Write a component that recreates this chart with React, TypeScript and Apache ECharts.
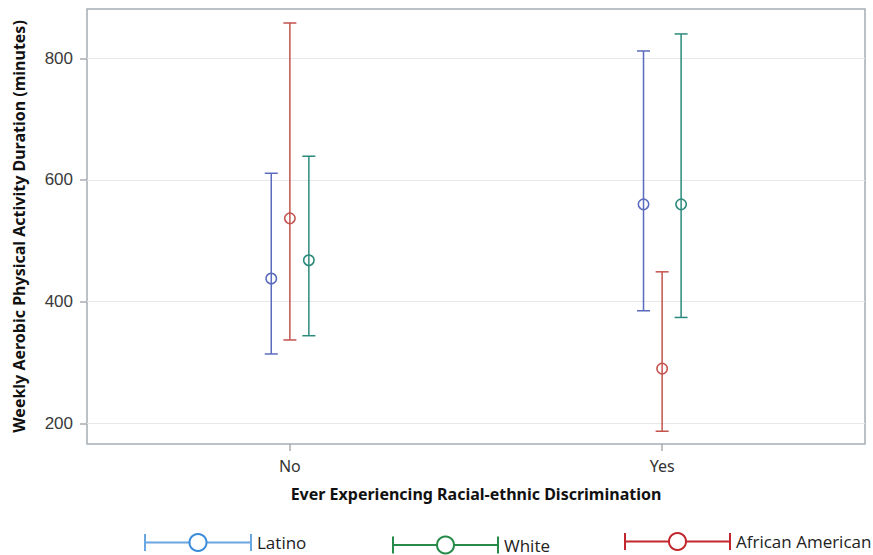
import React, { useEffect, useRef } from "react";
import * as echarts from "echarts";

const categories = ["No", "Yes"];
const yTicks = [200, 400, 600, 800];

const latinoMean = [438, 560];
const latinoLow = [314, 385];
const latinoHigh = [611, 812];

const aaMean = [537, 290];
const aaLow = [337, 187];
const aaHigh = [858, 449];

const whiteMean = [468, 560];
const whiteLow = [344, 374];
const whiteHigh = [639, 840];

const COLORS = { latino: "#5a6bbd", aa: "#c4524d", white: "#2b8a7b" };
const LEGEND_COLORS = { latino: "#3a8cdb", white: "#268a48", aa: "#c3262c" };

function buildData(offset: number, mean: number[], low: number[], high: number[]) {
  return categories.map((_, i) => [i + 1 + offset, low[i], high[i], mean[i]]);
}

function makeSeries(name: string, color: string, offset: number, mean: number[], low: number[], high: number[]) {
  return {
    type: "custom",
    name,
    data: buildData(offset, mean, low, high),
    renderItem: (params: any, api: any) => {
      const x = api.value(0);
      const pLow = api.coord([x, api.value(1)]);
      const pHigh = api.coord([x, api.value(2)]);
      const pMean = api.coord([x, api.value(3)]);
      const cap = 6.5;
      const st = { stroke: color, lineWidth: 1.5, fill: "none" };
      return {
        type: "group",
        children: [
          { type: "line", shape: { x1: pLow[0], y1: pLow[1], x2: pHigh[0], y2: pHigh[1] }, style: st },
          { type: "line", shape: { x1: pLow[0] - cap, y1: pLow[1], x2: pLow[0] + cap, y2: pLow[1] }, style: st },
          { type: "line", shape: { x1: pHigh[0] - cap, y1: pHigh[1], x2: pHigh[0] + cap, y2: pHigh[1] }, style: st },
          { type: "circle", shape: { cx: pMean[0], cy: pMean[1], r: 5.2 }, style: { stroke: color, lineWidth: 1.5, fill: "rgba(255,255,255,0)" } },
        ],
      };
    },
  };
}

function legendItem(x1: number, x2: number, cy: number, color: string, label: string, lightLine?: string) {
  const cx = (x1 + x2) / 2;
  const lineColor = lightLine || color;
  return [
    { type: "line", shape: { x1, y1: cy, x2: cx - 8.5, y2: cy }, style: { stroke: lineColor, lineWidth: 2 } },
    { type: "line", shape: { x1: cx + 8.5, y1: cy, x2, y2: cy }, style: { stroke: lineColor, lineWidth: 2 } },
    { type: "line", shape: { x1, y1: cy - 8.5, x2: x1, y2: cy + 8.5 }, style: { stroke: lineColor, lineWidth: 2 } },
    { type: "line", shape: { x1: x2, y1: cy - 8.5, x2, y2: cy + 8.5 }, style: { stroke: lineColor, lineWidth: 2 } },
    { type: "circle", shape: { cx, cy, r: 8.5 }, style: { stroke: color, lineWidth: 2, fill: "none" } },
    {
      type: "text",
      x: x2 + 6,
      y: cy,
      style: { text: label, fill: "#222", font: "17px 'Open Sans'", textVerticalAlign: "middle", textAlign: "left" },
    },
  ];
}

export default function App() {
  const ref = useRef<HTMLDivElement>(null);
  useEffect(() => {
    if (!ref.current) return;
    const chart = echarts.init(ref.current, null, { renderer: "svg" });
    chart.setOption({
      animation: false,
      backgroundColor: "#ffffff",
      grid: {
        left: 87,
        top: 9,
        right: 8,
        bottom: 111,
        show: true,
        borderColor: "#a7adb3",
        borderWidth: 1.5,
        backgroundColor: "#ffffff",
      },
      xAxis: {
        type: "value",
        min: 0.455,
        max: 2.545,
        name: "Ever Experiencing Racial-ethnic Discrimination",
        nameLocation: "middle",
        nameGap: 42,
        nameTextStyle: { fontFamily: "Noto Sans", fontWeight: "bold", fontSize: 16, color: "#111" },
        axisLine: { show: false },
        axisTick: { show: true, customValues: [1, 2], length: 7, lineStyle: { color: "#a7adb3", width: 1.5 } },
        axisLabel: {
          customValues: [1, 2],
          formatter: (v: number) => categories[Math.round(v) - 1] || "",
          fontFamily: "Noto Sans",
          fontSize: 16,
          color: "#333",
          margin: 14,
        },
        splitLine: { show: false },
      },
      yAxis: {
        type: "value",
        min: 166,
        max: 881,
        name: "Weekly Aerobic Physical Activity Duration (minutes)",
        nameLocation: "middle",
        nameGap: 60,
        nameTextStyle: { fontFamily: "Noto Sans", fontWeight: "bold", fontSize: 16, color: "#111" },
        axisLine: { show: false },
        axisTick: { show: true, customValues: yTicks, length: 7, lineStyle: { color: "#a7adb3", width: 1.5 } },
        axisLabel: {
          customValues: yTicks,
          fontFamily: "Liberation Sans",
          fontSize: 17,
          color: "#3a3a3a",
          margin: 14,
        },
        splitLine: { show: true, lineStyle: { color: "#e6e8ea", width: 1.2 } },
      },
      series: [
        makeSeries("Latino", COLORS.latino, -0.05, latinoMean, latinoLow, latinoHigh),
        makeSeries("African American", COLORS.aa, 0, aaMean, aaLow, aaHigh),
        makeSeries("White", COLORS.white, 0.051, whiteMean, whiteLow, whiteHigh),
      ],
      graphic: [
        ...legendItem(145, 251, 542.5, LEGEND_COLORS.latino, "Latino", "#6aa6e0"),
        ...legendItem(393, 498, 545, LEGEND_COLORS.white, "White"),
        ...legendItem(625, 730, 541.5, LEGEND_COLORS.aa, "African American"),
      ],
    });
    return () => chart.dispose();
  }, []);
  return <div ref={ref} style={{ width: 873, height: 555, position: "absolute", left: 0, top: 0 }} />;
}
